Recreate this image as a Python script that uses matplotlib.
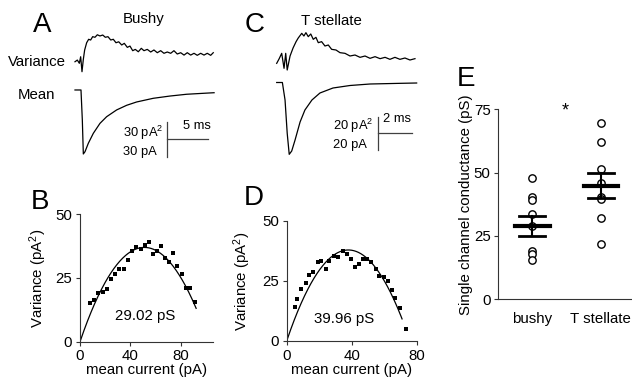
import matplotlib
matplotlib.use("Agg")
import matplotlib.pyplot as plt
import numpy as np

plt.rcParams['font.family'] = ['Liberation Sans', 'DejaVu Sans']
plt.rcParams['font.size'] = 10.8
plt.rcParams['mathtext.default'] = 'regular'

# A: bushy cell, mean EPSC (ms, pA) and variance (ms, pA^2)
bushy_mean_t = [0, 0.72, 0.88, 1.0, 1.2, 1.6, 2.2, 3.0, 3.8, 5.0, 6.2, 7.4, 9.4, 11.4, 13.4, 15.4, 16.7]
bushy_mean_i = [0, 0, -25.3, -53.9, -52.0, -44.9, -36.5, -28.1, -22.5, -16.8, -12.9, -10.1, -7.0, -5.1, -3.6, -2.8, -2.3]
bushy_var_t = [0, 0.28, 0.52, 0.68, 0.84, 1.0, 1.16, 1.40, 1.64, 1.88, 2.12, 2.40, 2.68, 3.0, 3.33,
               3.64, 3.96, 4.29, 4.60, 4.92, 5.25, 5.61, 5.92, 6.28, 6.60, 6.93, 7.24, 7.60, 7.96,
               8.28, 8.68, 9.09, 9.48, 9.88, 10.29, 10.68, 11.08, 11.49, 11.88, 12.28, 12.69, 13.09,
               13.48, 13.89, 14.29, 14.68, 15.09, 15.49, 15.88, 16.29, 16.60]
bushy_var_v = [0, 1.4, -1.3, 4.2, -8.4, 2.0, 9.9, 16.0, 18.9, 18.3, 21.1, 20.6, 22.7, 21.7, 22.5,
               20.6, 21.1, 18.3, 18.9, 16.0, 16.8, 14.1, 15.5, 12.1, 13.2, 9.3, 10.4, 8.4, 11.3,
               9.3, 10.4, 8.2, 9.9, 7.6, 9.3, 7.1, 8.2, 7.1, 9.3, 6.5, 7.6, 5.6,
               7.6, 5.6, 7.1, 5.4, 7.1, 5.6, 7.1, 5.4, 7.6]

# C: T stellate cell
stell_mean_t = [0, 0.34, 0.50, 0.63, 0.75, 0.90, 1.10, 1.40, 1.69, 2.11, 2.59, 3.37, 4.39, 5.59, 7.38, 8.38]
stell_mean_i = [0, 0, -10.5, -30.5, -43.1, -41.1, -34.5, -23.7, -16.5, -10.5, -6.3, -3.3, -1.8, -0.9, -0.5, -0.3]
stell_var_t = [0, 0.14, 0.30, 0.44, 0.54, 0.63, 0.80, 0.98, 1.16, 1.29, 1.50, 1.63, 1.75, 1.89, 2.04,
               2.19, 2.35, 2.49, 2.69, 2.89, 3.09, 3.29, 3.55, 3.79, 4.09, 4.39, 4.69, 4.99, 5.29,
               5.59, 5.89, 6.19, 6.49, 6.78, 7.08, 7.38, 7.68, 7.98, 8.28]
stell_var_v = [0.4, 3.0, 6.4, -2.6, 6.4, -3.6, 4.8, 9.6, 13.4, 15.6, 18.4, 16.8, 18.8, 16.4, 18.0,
               14.8, 16.0, 12.8, 13.4, 10.8, 11.4, 8.8, 8.4, 6.8, 6.4, 4.8, 5.4, 4.0, 4.8,
               3.4, 4.4, 3.2, 4.0, 2.8, 4.0, 2.8, 3.6, 2.4, 3.2]

# B: variance vs mean current, bushy
b_current = [7.9, 11.1, 14.2, 17.9, 21.1, 24.3, 27.4, 30.9, 34.6, 38.0, 41.2, 44.3, 48.0,
             51.2, 54.4, 57.8, 60.9, 64.1, 67.3, 70.4, 73.6, 77.0, 80.5, 83.9, 87.1, 90.8]
b_variance = [15.3, 16.5, 19.2, 19.5, 20.8, 24.7, 26.7, 28.7, 28.7, 32.2, 35.6, 37.2, 36.5,
              38.0, 39.3, 34.6, 35.7, 37.7, 33.0, 31.2, 34.9, 29.8, 26.7, 20.9, 21.2, 15.7]
b_gamma = 29.02   # pS
b_nchan = 70.3
b_fit_end = 92

# D: variance vs mean current, T stellate
d_current = [4.9, 6.1, 8.8, 11.8, 13.7, 15.9, 19.2, 21.4, 24.1, 26.3, 29.0, 31.6, 34.5, 36.9,
             39.4, 41.8, 44.3, 46.9, 49.2, 51.6, 54.7, 56.9, 59.6, 62.4, 64.9, 66.7, 69.8, 73.5]
d_variance = [14.2, 17.5, 21.7, 24.3, 27.5, 28.8, 32.9, 33.3, 30.0, 33.5, 35.4, 35.1, 37.6, 36.4,
              34.2, 31.0, 31.9, 34.3, 34.3, 32.9, 30.0, 27.2, 26.8, 25.1, 21.3, 18.1, 13.9, 4.9]
d_gamma = 39.96   # pS
d_nchan = 38.0
d_fit_end = 71

driving_force = 50.0  # mV

# E: single channel conductance
groups = ['bushy', 'T stellate']
bushy_g = [48.0, 40.4, 39.3, 33.8, 29.1, 19.2, 17.8, 15.6]
stellate_g = [69.5, 62.2, 51.4, 45.8, 40.3, 39.5, 32.2, 22.0]
group_mean = [28.9, 44.8]
group_sem = [3.9, 5.0]

fig = plt.figure(figsize=(6.32, 3.79), dpi=100)


def draw_traces(ax, mean_t, mean_i, var_t, var_v, var_offset):
    ax.plot(mean_t, mean_i, color='k', lw=0.9)
    ax.plot(var_t, np.array(var_v) + var_offset, color='k', lw=0.9)
    ax.axis('off')


def scale_bar(ax, x0, y0, ms, amp):
    ax.plot([x0, x0], [y0, y0 + amp], color='0.25', lw=0.9)
    ax.plot([x0, x0 + ms], [y0 + amp / 2, y0 + amp / 2], color='0.25', lw=0.9)


# A traces
axA = fig.add_axes([70 / 632, 1 - 170 / 379, 150 / 632, 170 / 379])
draw_traces(axA, bushy_mean_t, bushy_mean_i, bushy_var_t, bushy_var_v, 23.8)
axA.set_xlim(-0.6, 17.41)
axA.set_ylim(-67.4, 75.8)
scale_bar(axA, 11.0, -56.7, 5, 30)
axA.text(14.6, -30.3, '5 ms', ha='center', va='center', fontsize=9.3)
axA.text(5.8, -36.5, '30 pA$^2$', ha='left', va='center', fontsize=9.3)
axA.text(5.8, -52.0, '30 pA', ha='left', va='center', fontsize=9.3)

# C traces
axC = fig.add_axes([265 / 632, 1 - 170 / 379, 160 / 632, 170 / 379])
draw_traces(axC, stell_mean_t, stell_mean_i, stell_var_t, stell_var_v, 11.1)
axC.set_xlim(-0.70, 8.88)
axC.set_ylim(-52.5, 49.5)
scale_bar(axC, 6.08, -40.5, 2, 20)
axC.text(7.18, -22.1, '2 ms', ha='center', va='center', fontsize=9.3)
axC.text(3.35, -26.1, '20 pA$^2$', ha='left', va='center', fontsize=9.3)
axC.text(3.35, -37.5, '20 pA', ha='left', va='center', fontsize=9.3)

fig.text(0.058, 0.837, 'Variance', ha='center', va='center')
fig.text(0.058, 0.749, 'Mean', ha='center', va='center')
fig.text(0.2267, 0.949, 'Bushy', ha='center', va='center')
fig.text(0.5248, 0.945, 'T stellate', ha='center', va='center')


def style_axes(ax):
    for s in ['top', 'right']:
        ax.spines[s].set_visible(False)
    for s in ['left', 'bottom']:
        ax.spines[s].set_linewidth(0.8)
        ax.spines[s].set_color('0.2')
    ax.tick_params(direction='out', length=3, width=0.8, color='0.2', pad=2.5)


def nonstationary_plot(ax, cur, var, gamma, nchan, fit_end, xmax, label_xy):
    ax.plot(cur, var, 's', color='k', ms=3.2, mew=0)
    i_single = gamma * driving_force / 1000.0
    xs = np.linspace(0, fit_end, 200)
    ax.plot(xs, i_single * xs - xs ** 2 / nchan, color='k', lw=0.9)
    ax.set_xlim(0, xmax)
    ax.set_ylim(0, 50)
    ax.set_xticks([0, 40, 80])
    ax.set_yticks([0, 25, 50])
    ax.set_xlabel('mean current (pA)')
    ax.set_ylabel('Variance (pA$^2$)')
    ax.text(label_xy[0], label_xy[1], '%.2f pS' % gamma, ha='center', va='center')
    style_axes(ax)


axB = fig.add_axes([0.1266, 0.0984, 0.2109, 0.3362])
nonstationary_plot(axB, b_current, b_variance, b_gamma, b_nchan, b_fit_end, 105.6, (51.7, 10.1))
axB.xaxis.set_label_coords(0.5, -0.167)
axB.yaxis.set_label_coords(-0.233, 0.5)

axD = fig.add_axes([0.4536, 0.1003, 0.2057, 0.3166])
nonstationary_plot(axD, d_current, d_variance, d_gamma, d_nchan, d_fit_end, 80, (35.3, 9.2))
axD.xaxis.set_label_coords(0.5, -0.183)
axD.yaxis.set_label_coords(-0.257, 0.5)

# E
axE = fig.add_axes([0.7884, 0.2103, 0.2116, 0.5013])
for k, vals in enumerate([bushy_g, stellate_g]):
    ax_x = np.full(len(vals), k)
    axE.plot(ax_x, vals, 'o', mfc='white', mec='k', ms=5.3, mew=1.0, zorder=2)
    m, s = group_mean[k], group_sem[k]
    axE.plot([k - 0.25, k + 0.25], [m, m], color='k', lw=3.0, zorder=3)
    axE.plot([k - 0.19, k + 0.19], [m + s, m + s], color='k', lw=2.0, zorder=3)
    axE.plot([k - 0.19, k + 0.19], [m - s, m - s], color='k', lw=2.0, zorder=3)
    axE.plot([k, k], [m - s, m + s], color='k', lw=1.5, zorder=3)
axE.set_xlim(-0.5, 1.455)
axE.set_ylim(0, 75)
axE.set_yticks([0, 25, 50, 75])
axE.set_xticks([0, 1])
axE.set_xticklabels(groups)
axE.set_ylabel('Single channel conductance (pS)')
style_axes(axE)
axE.tick_params(axis='x', length=0, pad=9)
axE.yaxis.set_label_coords(-0.189, 0.5)
axE.text(0.48, 74.5, '*', ha='center', va='center', fontsize=13)

for letter, (x, y) in zip('ABCDE', [(0.066, 0.934), (0.0633, 0.467), (0.4035, 0.934),
                                   (0.4019, 0.478), (0.737, 0.792)]):
    fig.text(x, y, letter, ha='center', va='center', fontsize=20)

fig.savefig('out.png', dpi=100)
